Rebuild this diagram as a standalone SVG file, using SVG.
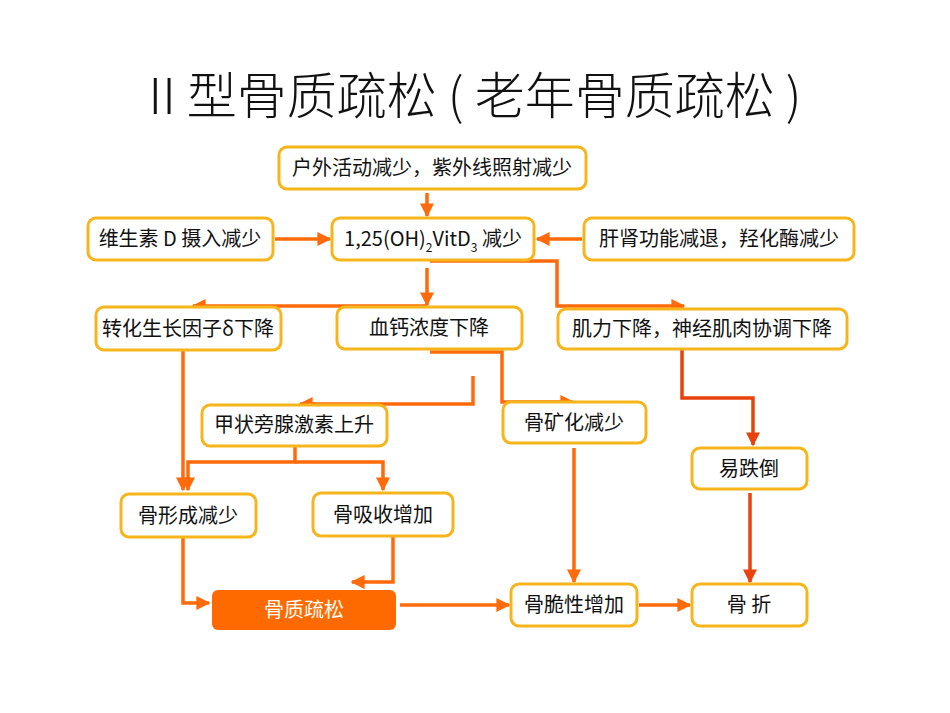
<svg xmlns="http://www.w3.org/2000/svg" width="950" height="713" viewBox="0 0 950 713">
<style>
.b{fill:#fff;stroke:#F7B51C;stroke-width:3}
.t{font-family:"Noto Sans CJK SC","Liberation Sans",sans-serif;font-size:20px;fill:#111;text-anchor:middle}
.c{fill:none;stroke:#FF6A0A;stroke-width:3.5}
.r{fill:none;stroke:#E8420E;stroke-width:3.5}
</style>
<defs>
<marker id="a" viewBox="0 0 10 10" refX="9" refY="5" markerWidth="4" markerHeight="4" orient="auto" markerUnits="strokeWidth"><path d="M0,0L10,5L0,10z" fill="#FF6A0A"/></marker>
<marker id="ar" viewBox="0 0 10 10" refX="9" refY="5" markerWidth="4" markerHeight="4" orient="auto" markerUnits="strokeWidth"><path d="M0,0L10,5L0,10z" fill="#E8420E"/></marker>
</defs>
<rect width="950" height="713" fill="#fff"/>
<text x="475" y="114" font-family="'Noto Sans CJK SC','Liberation Sans',sans-serif" font-size="50" font-weight="300" text-anchor="middle" fill="#111">II 型骨质疏松 ( 老年骨质疏松 )</text>
<g id="connectors">
<path class="c" d="M427,193V216" marker-end="url(#a)"/>
<path class="c" d="M275,239H330" marker-end="url(#a)"/>
<path class="c" d="M582,239H537" marker-end="url(#a)"/>
<path class="c" d="M430,261H557V306H684" marker-end="url(#a)"/>
<path class="c" d="M427,268V305" marker-end="url(#a)"/>
<path class="c" d="M427,306H193" marker-end="url(#a)"/>
<path class="c" d="M183,350V490" marker-end="url(#a)"/>
<path class="c" d="M430,352H502V402H573" marker-end="url(#a)"/>
<path class="c" d="M473,376V404H300" marker-end="url(#a)"/>
<path class="c" d="M295,447V462H188V490" marker-end="url(#a)"/>
<path class="c" d="M295,462H383V490" marker-end="url(#a)"/>
<path class="c" d="M183,537V603H209" marker-end="url(#a)"/>
<path class="c" d="M393,537V582H352" marker-end="url(#a)"/>
<path class="c" d="M400,605H509" marker-end="url(#a)"/>
<path class="c" d="M574,448V582" marker-end="url(#a)"/>
<path class="c" d="M639,605H690" marker-end="url(#a)"/>
<path class="r" d="M682,350V398H753V445" marker-end="url(#ar)"/>
<path class="r" d="M750,493V582" marker-end="url(#ar)"/>
</g>
<g id="n1"><rect class="b" x="279" y="147" width="307" height="42" rx="8"/><text class="t" x="432" y="175">户外活动减少，紫外线照射减少</text></g>
<g id="n2"><rect class="b" x="88" y="218" width="185" height="42" rx="8"/><text class="t" x="180" y="246">维生素 D 摄入减少</text></g>
<g id="n3"><rect class="b" x="332" y="218" width="202" height="42" rx="8"/><text class="t" x="433" y="246">1,25(OH)<tspan font-size="12" dy="6">2</tspan><tspan dy="-6">VitD</tspan><tspan font-size="12" dy="6">3</tspan><tspan dy="-6"> 减少</tspan></text></g>
<g id="n4"><rect class="b" x="584" y="218" width="270" height="42" rx="8"/><text class="t" x="719" y="246">肝肾功能减退，羟化酶减少</text></g>
<g id="n5"><rect class="b" x="96" y="307" width="185" height="43" rx="8"/><text class="t" x="188" y="336">转化生长因子δ下降</text></g>
<g id="n6"><rect class="b" x="337" y="307" width="185" height="42" rx="8"/><text class="t" x="429" y="335">血钙浓度下降</text></g>
<g id="n7"><rect class="b" x="558" y="309" width="289" height="40" rx="8"/><text class="t" x="702" y="336">肌力下降，神经肌肉协调下降</text></g>
<g id="n8"><rect class="b" x="202" y="405" width="185" height="41" rx="8"/><text class="t" x="294" y="432">甲状旁腺激素上升</text></g>
<g id="n9"><rect class="b" x="503" y="402" width="143" height="41" rx="8"/><text class="t" x="574" y="430">骨矿化减少</text></g>
<g id="n10"><rect class="b" x="692" y="448" width="115" height="41" rx="8"/><text class="t" x="749" y="476">易跌倒</text></g>
<g id="n11"><rect class="b" x="121" y="494" width="135" height="43" rx="8"/><text class="t" x="188" y="523">骨形成减少</text></g>
<g id="n12"><rect class="b" x="313" y="493" width="140" height="43" rx="8"/><text class="t" x="383" y="522">骨吸收增加</text></g>
<g id="n13"><rect x="212" y="590" width="184" height="40" rx="6" fill="#FF6A00"/><text class="t" x="304" y="617" style="fill:#fff">骨质疏松</text></g>
<g id="n14"><rect class="b" x="511" y="584" width="126" height="42" rx="8"/><text class="t" x="574" y="612">骨脆性增加</text></g>
<g id="n15"><rect class="b" x="692" y="584" width="115" height="42" rx="8"/><text class="t" x="749" y="612">骨 折</text></g>
</svg>
